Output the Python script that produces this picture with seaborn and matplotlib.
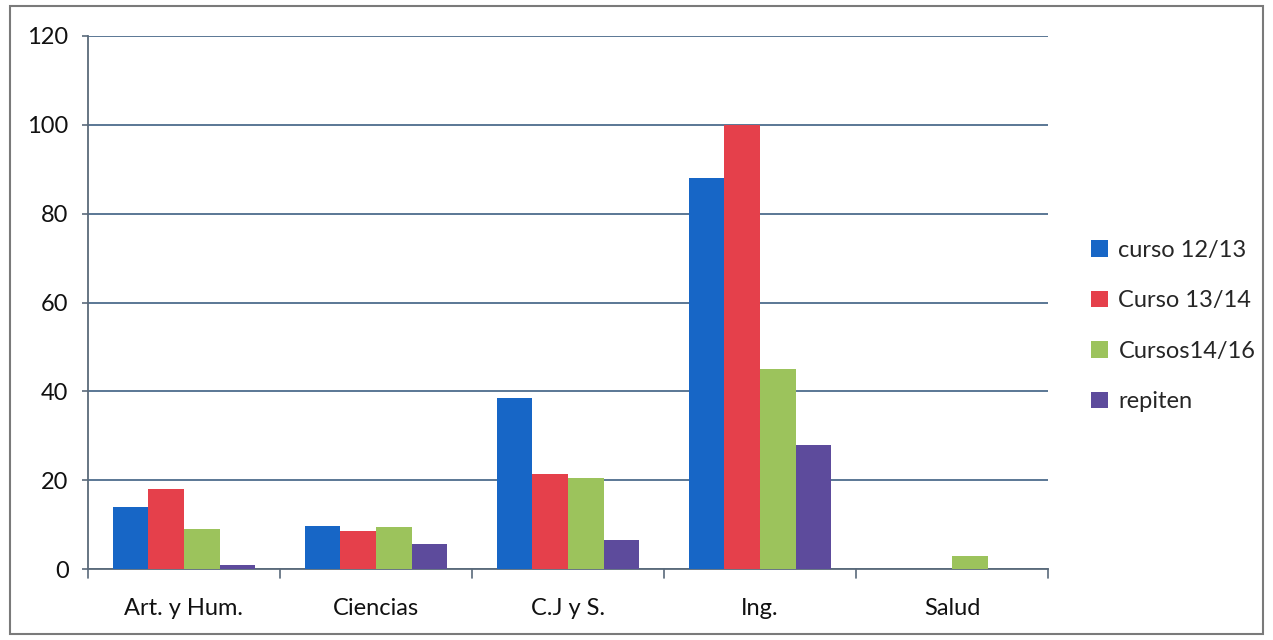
import matplotlib
matplotlib.use("Agg")
import matplotlib.pyplot as plt
import seaborn as sns
import pandas as pd
from matplotlib.patches import Rectangle, Patch

categories = ["Art. y Hum.", "Ciencias", "C.J y S.", "Ing.", "Salud"]
series_names = ["curso 12/13", "Curso 13/14", "Cursos14/16", "repiten"]
curso_12_13 = [14, 9.7, 38.5, 88, 0]
curso_13_14 = [18, 8.6, 21.5, 100, 0]
cursos_14_16 = [9, 9.5, 20.5, 45, 3]
repiten = [1, 5.6, 6.6, 28, 0]
y_ticks = [0, 20, 40, 60, 80, 100, 120]

colors = ["#1766c6", "#e5404b", "#9cc35c", "#5d4b9c"]

rows = []
for name, vals in zip(series_names, [curso_12_13, curso_13_14, cursos_14_16, repiten]):
    for c, v in zip(categories, vals):
        rows.append({"cat": c, "serie": name, "valor": v})
df = pd.DataFrame(rows)

sns.set_theme(style="white")
plt.rcParams["font.family"] = ["Lato", "DejaVu Sans"]

fig = plt.figure(figsize=(12.73, 6.4), dpi=100)
ax = fig.add_axes([88/1273, 1-569/640, (1048-88)/1273, (569-36)/640])

sns.barplot(data=df, x="cat", y="valor", hue="serie", order=categories,
            hue_order=series_names, palette=colors, width=0.74, gap=0,
            saturation=1, ax=ax, legend=False, zorder=3, linewidth=0)

ax.set_ylim(0, 120)
ax.set_xlim(-0.5, len(categories) - 0.5)
ax.set_yticks(y_ticks)
ax.set_yticklabels([str(t) for t in y_ticks], fontsize=17, color="#111111")
ax.set_xticks(range(len(categories)))
ax.set_xticklabels(categories, fontsize=17, color="#111111")
ax.tick_params(axis="x", length=0, pad=21)
ax.tick_params(axis="y", length=4, width=1.2, color="#5a6a7a", pad=10, left=True)
# boundary tick marks between categories
for b in [i - 0.5 for i in range(len(categories) + 1)]:
    ax.plot([b, b], [0, -2], color="#5a6a7a", lw=1.2, clip_on=False, zorder=4)
ax.set_xlabel("")
ax.set_ylabel("")
ax.yaxis.grid(True, color="#4d6c8c", lw=1.3)
ax.set_axisbelow(True)
for s in ["top", "right"]:
    ax.spines[s].set_visible(False)
ax.spines["left"].set_color("#5a6a7a")
ax.spines["bottom"].set_color("#5a6a7a")
ax.spines["left"].set_linewidth(1.3)
ax.spines["bottom"].set_linewidth(1.3)

handles = [Patch(facecolor=c, edgecolor="none") for c in colors]
fig.legend(handles, series_names, loc="center left", bbox_to_anchor=(1070/1273, 1-326/640),
           frameon=False, fontsize=17, handlelength=0.7, handleheight=0.7,
           handletextpad=0.45, labelspacing=1.25)

fig.patches.append(Rectangle((10/1273, 6/640), 1253/1273, 628/640, transform=fig.transFigure,
                             fill=False, edgecolor="#7a7a7a", lw=1.5))

fig.savefig("out.png", dpi=100, facecolor="white")
